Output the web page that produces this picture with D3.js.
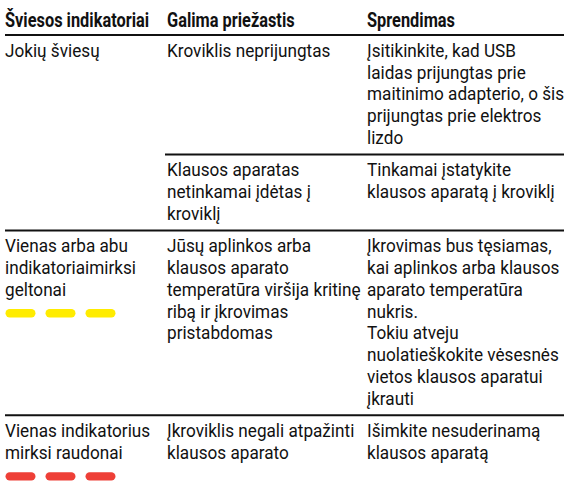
<!DOCTYPE html>
<html><head><meta charset="utf-8">
<script src="https://cdn.jsdelivr.net/npm/d3@7"></script>
<style>html,body{margin:0;padding:0;background:#fff;}svg{display:block;}</style>
</head><body>
<script>
// ---- data ----
const headers = ["Šviesos indikatoriai", "Galima priežastis", "Sprendimas"];
const lights = [
  ["Jokių šviesų"],
  ["Vienas arba abu", "indikatoriaimirksi", "geltonai"],
  ["Vienas indikatorius", "mirksi raudonai"]
];
const causes = [
  [["Kroviklis neprijungtas"], ["Klausos aparatas", "netinkamai įdėtas į", "kroviklį"]],
  [["Jūsų aplinkos arba", "klausos aparato", "temperatūra viršija kritinę", "ribą ir įkrovimas", "pristabdomas"]],
  [["Įkroviklis negali atpažinti", "klausos aparato"]]
];
const solutions = [
  [["Įsitikinkite, kad USB", "laidas prijungtas prie", "maitinimo adapterio, o šis", "prijungtas prie elektros", "lizdo"],
   ["Tinkamai įstatykite", "klausos aparatą į kroviklį"]],
  [["Įkrovimas bus tęsiamas,", "kai aplinkos arba klausos", "aparato temperatūra", "nukris.", "Tokiu atveju", "nuolatieškokite vėsesnės", "vietos klausos aparatui", "įkrauti"]],
  [["Išimkite nesuderinamą", "klausos aparatą"]]
];
const blinkColors = [null, "#ffec00", "#ee3f37"];
const blinkCounts = [0, 3, 3];

// ---- layout ----
const W = 564, H = 483;
const FONT = "Roboto, 'Open Sans', sans-serif";
const BODY_SIZE = 18, HEAD_SIZE = 19.8;
const svg = d3.select("body").append("svg").attr("width", W).attr("height", H);

// horizontal condensing factor so widths match the reference
function measure(str, size, weight) {
  const t = svg.append("text").attr("font-family", FONT).attr("font-size", size)
    .attr("font-weight", weight).text(str);
  const w = t.node().getComputedTextLength(); t.remove();
  return w;
}
const bodySX = (195 / measure("nuolatieškokite vėsesnės", BODY_SIZE, 400) +
                185 / measure("Įkroviklis negali atpažinti", BODY_SIZE, 400) +
                163 / measure("Kroviklis neprijungtas", BODY_SIZE, 400)) / 3;
const headSX = (143 / measure("Šviesos indikatoriai", HEAD_SIZE, 700) +
                124 / measure("Galima priežastis", HEAD_SIZE, 700) +
                91 / measure("Sprendimas", HEAD_SIZE, 700)) / 3;

const x = d3.scaleOrdinal().domain([0, 1, 2]).range([5, 167, 367]);
const LH = 21.8, PAD = 10.5, HEADER_RULE = 35;
const lineY = d3.scaleLinear().domain([0, 1]).range([0, LH]);
const ink = "#111";

const g = svg.append("g");
// header
g.selectAll("text.h").data(headers).join("text").attr("class", "h")
  .attr("transform", (d, i) => `translate(${x(i)},26.5) scale(${headSX},1)`)
  .attr("font-family", FONT).attr("font-weight", 700).attr("font-size", HEAD_SIZE)
  .attr("fill", ink).text(d => d);

function rule(x0, y) {
  g.append("line").attr("x1", x0).attr("x2", W).attr("y1", y).attr("y2", y)
    .attr("stroke", ink).attr("stroke-width", 2);
}
function lines(arr, col, top) {
  g.append("g").selectAll("text").data(arr).join("text")
    .attr("transform", (d, k) => `translate(${x(col)},${top + lineY(k + 1)}) scale(${bodySX},1)`)
    .attr("font-family", FONT).attr("font-size", BODY_SIZE).attr("fill", ink).text(d => d);
}

rule(5, HEADER_RULE);
let y = HEADER_RULE;
lights.forEach((L, r) => {
  if (r > 0) rule(5, y);
  const rowTop = y;
  lines(L, 0, rowTop);
  if (blinkCounts[r]) {
    const cy = rowTop + lineY(L.length + 1) - 4.3;
    const px = d3.scaleLinear().domain([0, 1]).range([5.5, 45.5]);
    g.append("g").selectAll("rect").data(d3.range(blinkCounts[r])).join("rect")
      .attr("x", i => px(i)).attr("y", cy - 4.2).attr("width", 30).attr("height", 8.4)
      .attr("rx", 4.2).attr("fill", blinkColors[r]);
  }
  causes[r].forEach((c, s) => {
    if (s > 0) rule(165, y);
    const sol = solutions[r][s];
    lines(c, 1, y); lines(sol, 2, y);
    const n = Math.max(c.length, sol.length, s === 0 && causes[r].length === 1 ? L.length + (blinkCounts[r] ? 1 : 0) : 0);
    y = y + lineY(n) + PAD;
  });
});
</script>
</body></html>
